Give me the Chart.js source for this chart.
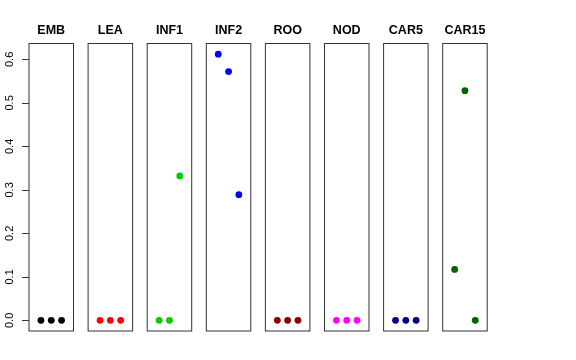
<!DOCTYPE html>
<html>
<head>
<meta charset="utf-8">
<script src="https://cdn.jsdelivr.net/npm/chart.js@4"></script>
<style>
html,body{margin:0;padding:0;background:#fff;}
#wrap{position:relative;width:576px;height:360px;background:#fff;}
#wrap canvas{position:absolute;left:0;top:0;}
</style>
</head>
<body>
<div id="wrap"></div>
<script>
// Data
const panels = ["EMB","LEA","INF1","INF2","ROO","NOD","CAR5","CAR15"];
const xPositions = [1, 2, 3];
const embValues  = [0, 0, 0];
const leaValues  = [0, 0, 0];
const inf1Values = [0, 0, 0.332];
const inf2Values = [0.612, 0.572, 0.289];
const rooValues  = [0, 0, 0];
const nodValues  = [0, 0, 0];
const car5Values = [0, 0, 0];
const car15Values = [0.117, 0.528, 0];
const yTicks = [0, 0.1, 0.2, 0.3, 0.4, 0.5, 0.6];
const yTickLabels = ["0.0","0.1","0.2","0.3","0.4","0.5","0.6"];

const seriesValues = [embValues, leaValues, inf1Values, inf2Values, rooValues, nodValues, car5Values, car15Values];
const colors = ["#000000","#FF0000","#00CD00","#0000FF","#8B0000","#FF00FF","#00008B","#006400"];

const W = 576, H = 360;
const firstLeft = 29, pitch = 59.1, boxW = 44.5;
const boxTop = 43.5, boxBottom = 331;
const yMax = 0.612;

const panelPlugin = {
  id: 'panelDecor',
  afterDraw(chart, args, opts) {
    const ctx = chart.ctx;
    const a = chart.chartArea;
    ctx.save();
    ctx.strokeStyle = '#333';
    ctx.lineWidth = 1;
    ctx.strokeRect(a.left, a.top, a.right - a.left, a.bottom - a.top);
    // title
    ctx.fillStyle = '#000';
    ctx.font = 'bold 12.5px "Liberation Sans", Arial, sans-serif';
    ctx.textAlign = 'center';
    ctx.textBaseline = 'alphabetic';
    ctx.fillText(opts.title, (a.left + a.right) / 2, 34);
    if (opts.axis) {
      const ys = chart.scales.y;
      ctx.strokeStyle = '#333';
      ctx.beginPath();
      yTicks.forEach(v => {
        const py = Math.round(ys.getPixelForValue(v)) + 0.5;
        ctx.moveTo(a.left, py);
        ctx.lineTo(a.left - 7, py);
      });
      ctx.stroke();
      ctx.font = '11px "Liberation Sans", Arial, sans-serif';
      ctx.fillStyle = '#000';
      yTicks.forEach((v, k) => {
        const py = ys.getPixelForValue(v);
        ctx.save();
        ctx.translate(12.7, py);
        ctx.rotate(-Math.PI / 2);
        ctx.textAlign = 'center';
        ctx.textBaseline = 'alphabetic';
        ctx.fillText(yTickLabels[k], 0, 0);
        ctx.restore();
      });
    }
    ctx.restore();
  }
};

const wrap = document.getElementById('wrap');
panels.forEach((name, i) => {
  const cv = document.createElement('canvas');
  cv.width = W; cv.height = H;
  cv.style.width = W + 'px'; cv.style.height = H + 'px';
  wrap.appendChild(cv);
  const left = firstLeft + pitch * i;
  const right = left + boxW;
  new Chart(cv, {
    type: 'scatter',
    data: {
      datasets: [{
        data: xPositions.map((x, k) => ({x: x, y: seriesValues[i][k]})),
        backgroundColor: colors[i],
        borderColor: colors[i],
        pointRadius: 3.4,
        pointBorderWidth: 0
      }]
    },
    options: {
      responsive: false,
      animation: false,
      devicePixelRatio: 1,
      layout: { padding: { left: left, right: W - right, top: boxTop, bottom: H - boxBottom } },
      scales: {
        x: { type: 'linear', display: false, min: -0.16, max: 4.16 },
        y: { type: 'linear', display: false, min: -0.04 * yMax, max: yMax * 1.04 }
      },
      plugins: {
        legend: { display: false },
        tooltip: { enabled: false },
        title: { display: false },
        panelDecor: { title: name, axis: i === 0 }
      }
    },
    plugins: [panelPlugin]
  });
});
</script>
</body>
</html>
